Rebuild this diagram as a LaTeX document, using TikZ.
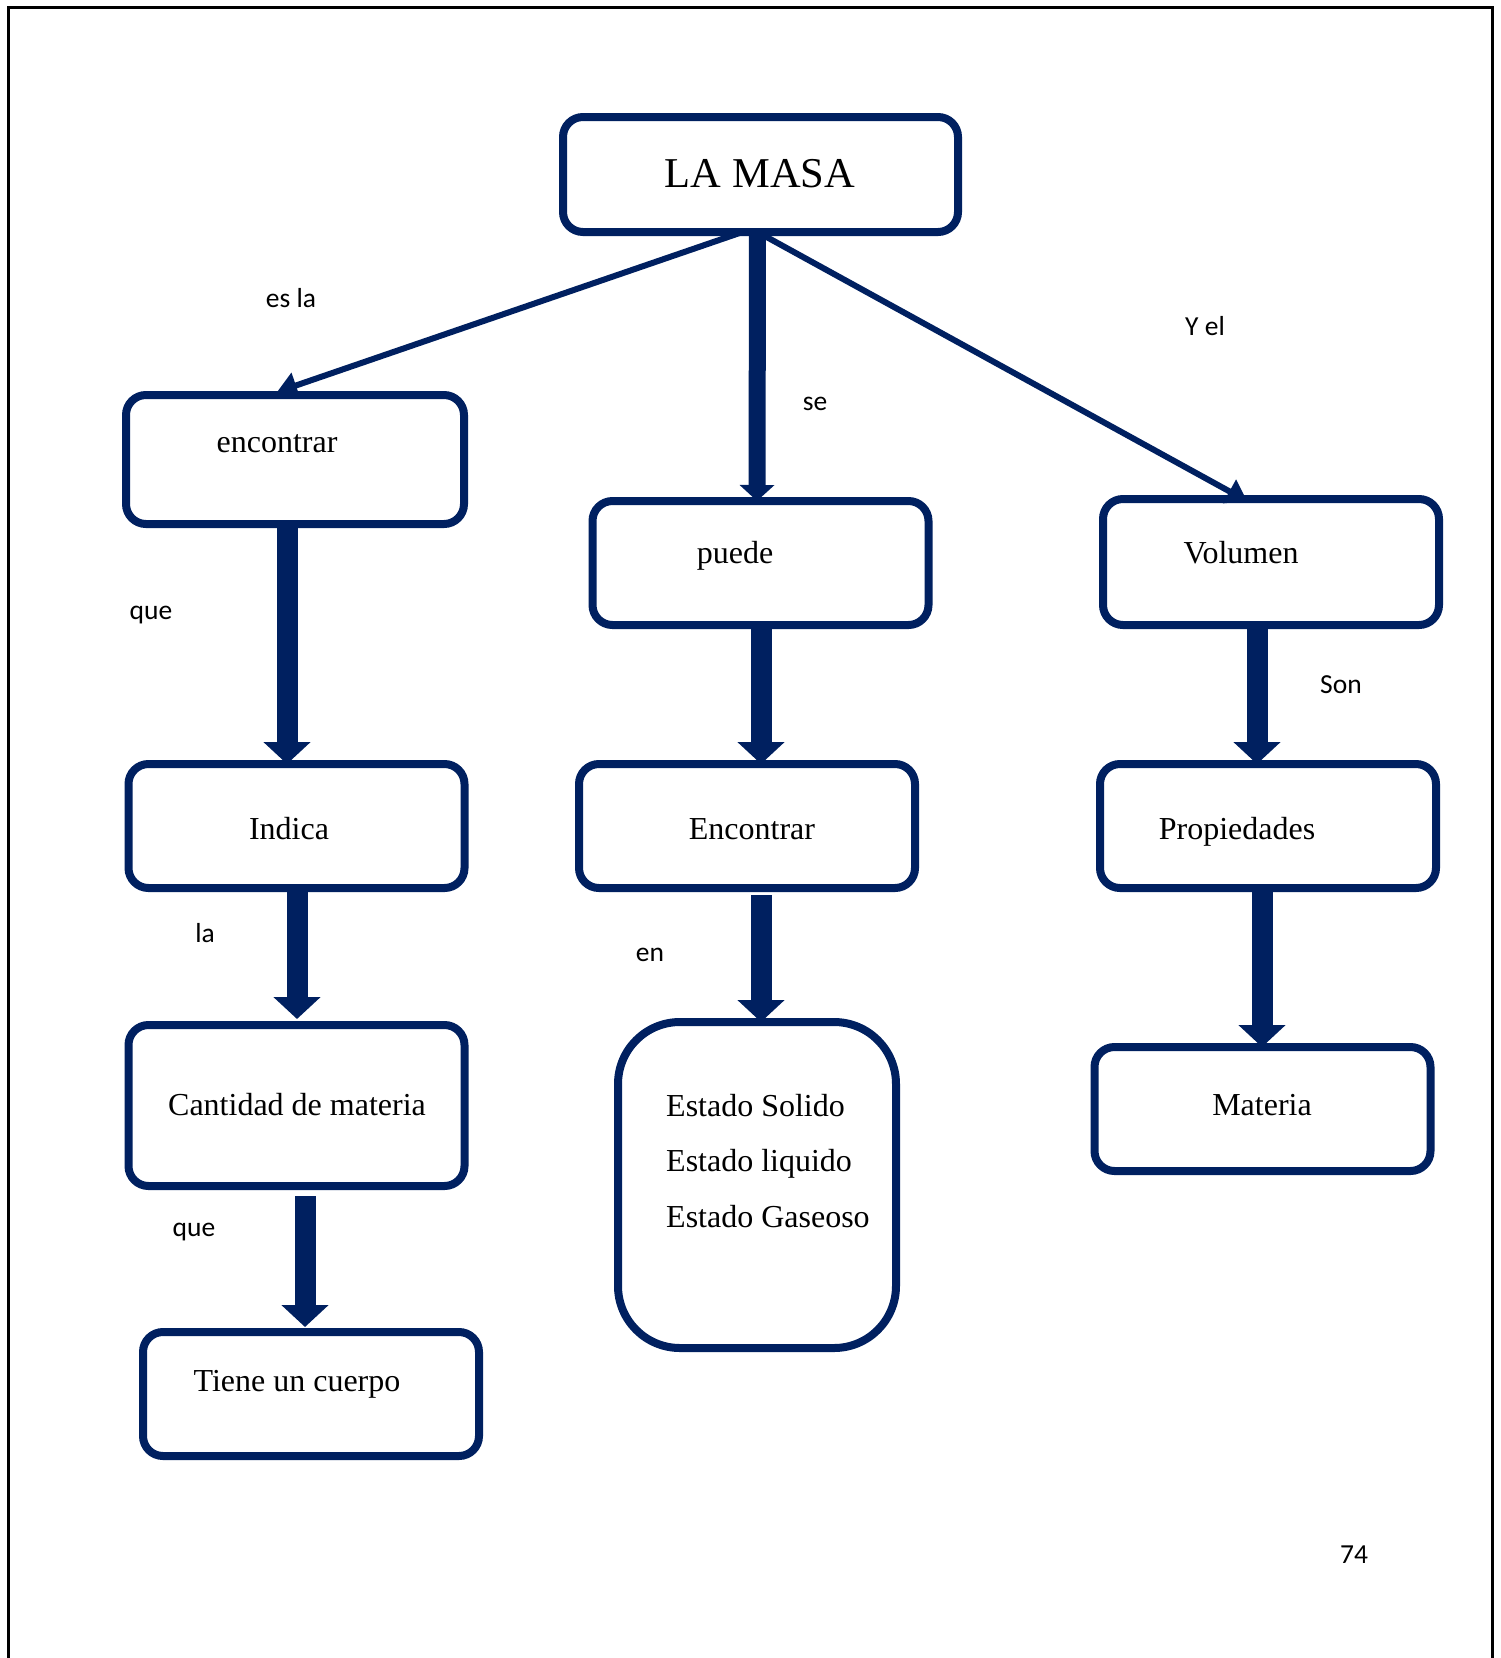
\documentclass[tikz,border=0pt]{standalone}
\usepackage{fontspec}
\usetikzlibrary{arrows.meta}
\newfontfamily\boxfont{Liberation Serif}
\newfontfamily\lblfont{Carlito}
\definecolor{navy}{RGB}{0,32,96}
\begin{document}
\begin{tikzpicture}[x=1pt,y=-1pt,
  box/.style={draw=navy,line width=8pt,rounded corners=20pt,inner sep=0pt,outer sep=0pt,
    minimum width=336pt,minimum height=124pt},
  boxtext/.style={anchor=base,inner sep=0pt,font=\boxfont\fontsize{32}{38}\selectfont},
  lbl/.style={anchor=base,inner sep=0pt,font=\lblfont\fontsize{27.5}{33}\selectfont},
  thin arrow/.style={draw=navy,line width=6pt,-{Triangle[width=26pt,length=20pt]}},
  mid arrow/.style={draw=navy,line width=17pt,-{Triangle[width=34pt,length=16pt]}},
  thick arrow/.style={draw=navy,line width=21pt,-{Triangle[width=46pt,length=22pt]}}]
\useasboundingbox (0,0) rectangle (1501,1658);
% page frame, open at the bottom
\draw[line width=3pt] (8,1658) -- (8,7) -- (1492,7) -- (1492,1658);

% boxes
\node[box,minimum width=395pt,minimum height=115pt] (masa) at (760.5,174.5) {};
\node[box,minimum width=338pt,minimum height=129pt] (enc) at (295,459.5) {};
\node[box] (ind) at (296.5,826) {};
\node[box,minimum height=161pt] (can) at (296.5,1105.5) {};
\node[box] (tie) at (311,1394) {};
\node[box] (pue) at (760.5,563) {};
\node[box] (enc2) at (747,826) {};
\node[box,rounded corners=62pt,minimum width=278pt,minimum height=326pt] (est) at (757,1185) {};
\node[box,minimum height=126pt] (vol) at (1271,562) {};
\node[box] (prop) at (1268,826) {};
\node[box] (mat) at (1262.5,1109) {};

% box texts
\node[anchor=base,inner sep=0pt,font=\boxfont\fontsize{42.5}{50}\selectfont] (tmasa) at (760,187) {LA MASA};
\node[boxtext] (tenc) at (277,452) {encontrar};
\node[boxtext] (tind) at (289,839) {Indica};
\node[boxtext] (tcan) at (297,1115) {Cantidad de materia};
\node[boxtext] (ttie) at (297,1391) {Tiene un cuerpo};
\node[boxtext] (tpue) at (735,563) {puede};
\node[boxtext] (tenc2) at (752,839) {Encontrar};
\node[boxtext,anchor=base west] (tsol) at (666,1116) {Estado Solido};
\node[boxtext,anchor=base west] (tliq) at (666,1171) {Estado liquido};
\node[boxtext,anchor=base west] (tgas) at (666,1227) {Estado Gaseoso};
\node[boxtext] (tvol) at (1241,563) {Volumen};
\node[boxtext] (tprop) at (1237,839) {Propiedades};
\node[boxtext] (tmat) at (1262,1115) {Materia};

% connector labels
\node[lbl] (les) at (291,307) {es la};
\node[lbl] (lse) at (815,410) {se};
\node[lbl] (lyel) at (1205,335) {Y el};
\node[lbl] (lque) at (151,619) {que};
\node[lbl] (lson) at (1341,693) {Son};
\node[lbl] (lla) at (205,942) {la};
\node[lbl] (len) at (650,961) {en};
\node[lbl] (lque2) at (194,1236) {que};
\node[lbl] (lpage) at (1354,1563) {74};

% connectors from the top box
\draw[thin arrow] ([xshift=-18pt]masa.south) -- ([xshift=-18pt,yshift=3pt]enc.north);
\draw[mid arrow] ([xshift=-3pt]masa.south) -- ([xshift=-3.5pt]pue.north);
\draw[thin arrow] ([xshift=-3pt]masa.south) -- ([xshift=-24pt,yshift=-2pt]vol.north);

% downward connectors
\draw[thick arrow] ([xshift=-8pt,yshift=-4pt]enc.south) -- ([xshift=-9.5pt]ind.north);
\draw[thick arrow] ([xshift=0.5pt,yshift=-3pt]ind.south) -- ([xshift=0.5pt,yshift=6pt]can.north);
\draw[thick arrow] ([xshift=8.5pt,yshift=-10pt]can.south) -- ([xshift=-6pt,yshift=5pt]tie.north);
\draw[thick arrow] ([xshift=0.5pt,yshift=-3pt]pue.south) -- ([xshift=14pt]enc2.north);
\draw[thick arrow] ([xshift=14pt,yshift=-7pt]enc2.south) -- ([xshift=4pt]est.north);
\draw[thick arrow] ([xshift=-14pt,yshift=-4pt]vol.south) -- ([xshift=-11pt]prop.north);
\draw[thick arrow] ([xshift=-6pt,yshift=-3pt]prop.south) -- ([xshift=-0.5pt]mat.north);
\end{tikzpicture}
\end{document}
